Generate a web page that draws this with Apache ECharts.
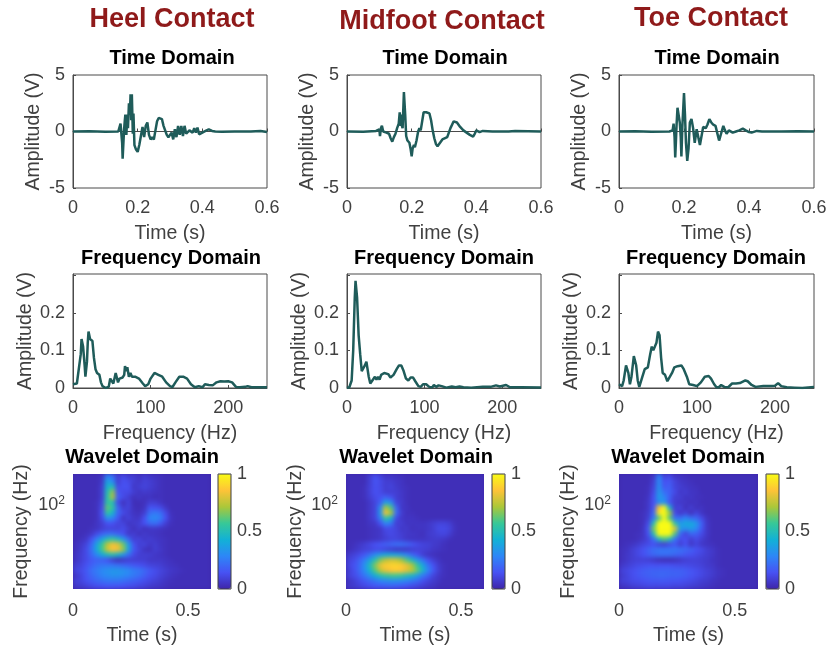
<!DOCTYPE html>
<html>
<head>
<meta charset="utf-8">
<style>
html,body{margin:0;padding:0;background:#fff}
#c{width:827px;height:647px}
canvas[data-zr-dom-id="zr_0"]{filter:blur(0.4px)}
/* soften only the wavelet layer, clipped to the three wavelet plot boxes */
canvas[data-zr-dom-id="zr_5"]{
  filter:blur(1.9px);
  clip-path:path('M73 474H211V589H73Z M346 474H484V589H346Z M619 474H758V589H619Z');
}
</style>
<script src="https://cdn.jsdelivr.net/npm/echarts@6/dist/echarts.min.js"></script>
</head>
<body>
<div id="c"></div>
<script>
const columnTitles = ['Heel Contact','Midfoot Contact','Toe Contact'];

const heelTimeT = [0,0.05,0.1,0.14,0.145,0.147,0.15,0.152,0.1535,0.156,0.158,0.16,0.162,0.165,0.168,0.17,0.173,0.176,0.178,0.18,0.182,0.185,0.187,0.19,0.195,0.2,0.205,0.21,0.215,0.22,0.225,0.23,0.235,0.24,0.245,0.25,0.255,0.26,0.265,0.27,0.275,0.28,0.29,0.295,0.3,0.305,0.31,0.315,0.32,0.325,0.33,0.335,0.34,0.345,0.35,0.355,0.36,0.365,0.37,0.375,0.38,0.385,0.39,0.4,0.41,0.42,0.43,0.44,0.46,0.5,0.55,0.58,0.6];
const heelTimeV = [0,0.02,-0.02,0,0.05,0.7,0.7,-1,-2.4,-2.3,0.2,0.9,1.5,-0.3,1.5,0.3,2.5,1.5,3.3,1,3.3,-0.2,1.6,-1.2,-1.6,-1.8,-1.2,-0.4,0.4,-0.5,0.5,0.8,-0.3,-0.7,-0.5,-0.7,0.1,0.9,1.2,1.2,1.1,0.5,-0.3,-0.5,-0.4,-0.1,-0.7,0.2,-0.5,0.5,-0.3,0.5,-0.4,0.5,-0.2,-0.1,0.1,0.25,-0.1,0.3,-0.1,0.35,-0.25,-0.1,0.05,0.2,0.05,0,-0.03,0,0,0.05,-0.05];

const midTimeT = [0,0.05,0.09,0.1,0.102,0.105,0.108,0.112,0.118,0.122,0.127,0.13,0.135,0.14,0.145,0.15,0.155,0.16,0.163,0.166,0.168,0.17,0.172,0.176,0.18,0.183,0.187,0.19,0.193,0.197,0.2,0.203,0.207,0.21,0.215,0.22,0.224,0.228,0.233,0.237,0.245,0.25,0.255,0.26,0.265,0.27,0.275,0.28,0.285,0.295,0.3,0.31,0.315,0.32,0.33,0.335,0.34,0.35,0.36,0.37,0.38,0.39,0.395,0.4,0.403,0.41,0.415,0.42,0.45,0.5,0.52,0.6];
const midTimeV = [0,-0.02,0.05,0.2,-0.4,0.3,0.5,0,0,-0.1,-0.1,-0.2,-0.6,-0.9,-0.5,-0.2,0.3,0.7,1.7,0.5,1.5,0.5,0.3,3.5,1.5,-0.4,-0.8,-0.9,-1,-1.6,-2.2,-1.5,-1.2,-1.4,-0.8,0,0.3,0.1,1,1.7,1.7,1.8,1.6,1,0.1,-0.6,-1.1,-1.3,-1.2,-0.7,-0.6,-0.5,-0.1,0.3,0.9,1,0.8,0.4,0.1,-0.1,-0.3,-0.45,-0.2,0.1,0.2,-0.05,0,0.05,0,0,0.05,0];

const toeTimeT = [0,0.05,0.1,0.155,0.16,0.165,0.168,0.17,0.171,0.173,0.175,0.177,0.18,0.183,0.187,0.19,0.192,0.195,0.2,0.203,0.206,0.21,0.214,0.218,0.223,0.228,0.233,0.239,0.244,0.249,0.254,0.259,0.267,0.272,0.278,0.284,0.29,0.297,0.302,0.308,0.314,0.321,0.326,0.331,0.338,0.35,0.36,0.37,0.381,0.39,0.4,0.408,0.424,0.44,0.5,0.55,0.6];
const toeTimeV = [0,0.02,-0.02,0,0.05,0.1,0.7,0.7,-0.5,-2.3,-1,0.5,2.1,2,0.8,-0.5,-2.2,0.5,3.4,1.5,-1,-2.6,-1.5,0.8,1.1,0.3,-1,0.2,-0.5,-1.2,-0.4,0.4,0.3,0.6,1.1,0.8,0.6,0.5,-0.1,-0.8,-0.2,0.5,0.1,-0.2,0.1,-0.1,0,0.1,0.25,0.1,-0.05,-0.1,0.05,0,0,0.02,0];

const heelFreqHz = [0,2,5,7,10,11,12,13,15,16,18,19,20,21,22,25,27,29,31,34,36,38,42,46,48,50,52,55,56,58,60,62,64,66,67,69,70,72,74,76,80,85,90,93,97,100,105,107,110,115,120,125,128,132,137,142,147,152,157,162,167,170,175,180,185,190,195,200,205,210,215,222,225,230,240,250];
const heelFreqV = [.01,.005,.012,.012,.09,.13,.133,.11,.06,.03,.07,.12,.15,.15,.13,.125,.08,.05,.04,.035,.015,.005,0,.003,.025,.03,.012,.04,.043,.015,.025,.03,.028,.035,.058,.045,.055,.03,.04,.03,.03,.025,.012,.005,.01,.025,.04,.045,.035,.03,.015,.005,.002,.015,.03,.03,.025,.01,.002,.005,.002,.01,.008,.007,.015,.018,.017,.018,.015,.003,.002,.003,.005,.002,.002,.002];

const midFreqHz = [0,3,6,8,10,11,12,13,15,17,19,21,23,25,26,28,30,32,34,36,38,40,42,44,46,48,50,53,56,60,64,67,70,73,76,79,82,85,88,92,95,98,102,106,110,112,115,118,122,128,135,140,145,150,160,175,185,192,197,205,210,225,250];
const midFreqV = [0,.002,.02,.1,.24,.285,.285,.24,.14,.09,.045,.045,.06,.07,.065,.03,.012,.018,.02,.03,.022,.03,.022,.035,.03,.04,.037,.037,.028,.035,.05,.06,.06,.045,.025,.02,.028,.028,.018,.005,.003,.01,.01,.003,.002,.008,.003,.007,.005,.001,.004,.002,.004,.002,.001,.003,.003,.007,.004,.008,.002,.002,.001];

const toeFreqHz = [0,2,4,6,9,10,12,14,16,19,20,22,24,26,28,30,33,37,40,42,44,46,48,50,52,54,56,59,62,64,68,71,75,80,83,87,90,92,95,100,105,110,115,118,122,125,128,131,135,140,145,150,155,162,165,170,175,185,195,200,204,208,215,225,235,250];
const toeFreqV = [.01,.012,.005,.02,.06,.065,.04,.01,.03,.085,.088,.06,.02,.003,.003,.03,.05,.055,.09,.11,.1,.1,.12,.15,.14,.08,.04,.035,.018,.018,.04,.055,.058,.06,.05,.03,.01,.005,.008,.005,.015,.03,.032,.025,.01,.002,.002,.008,.003,.002,.012,.012,.013,.02,.018,.008,.003,.005,.005,.006,.013,.005,.002,.001,0,.003];

/* wavelet magnitude in percent of full scale, top row first, read cell by cell */
const heelWavelet = [
[3,3,3,3,3,5,28,22,8,12,8,8,5,8,6,5,4,3,3,3,3,3,3,3,3,3],
[3,3,3,3,3,6,38,30,8,14,12,8,6,9,8,6,4,3,3,3,3,3,3,3,3,3],
[3,3,3,3,3,8,45,50,12,14,14,6,8,10,8,6,4,3,3,3,3,3,3,3,3,3],
[3,3,3,3,3,8,50,68,15,12,12,8,5,7,6,5,4,3,3,3,3,3,3,3,3,3],
[3,3,3,3,3,8,52,72,18,12,8,4,6,4,5,3,4,3,3,3,3,3,3,3,3,3],
[3,3,3,3,4,10,55,50,12,4,10,3,3,4,8,8,5,3,3,3,3,3,3,3,3,3],
[3,3,3,3,4,12,62,55,20,8,10,4,3,5,15,14,12,6,3,3,3,3,3,3,3,3],
[3,3,3,3,4,14,55,45,20,12,8,5,4,8,22,25,22,12,4,3,3,3,3,3,3,3],
[3,3,3,3,4,12,32,28,16,5,10,6,6,14,28,30,26,14,5,3,3,3,3,3,3,3],
[3,3,3,3,5,8,14,14,10,10,5,7,8,14,20,22,16,8,4,3,3,3,3,3,3,3],
[3,3,3,4,5,8,10,10,10,12,8,4,8,4,6,6,5,4,3,3,3,3,3,3,3,3],
[3,3,4,6,12,18,22,22,18,14,6,8,4,7,5,5,4,3,3,3,3,3,3,3,3,3],
[3,4,6,14,26,38,50,55,48,34,20,8,10,6,8,6,5,4,3,3,3,3,3,3,3,3],
[4,6,10,20,38,56,74,84,80,64,36,15,8,10,6,8,5,4,3,3,3,3,3,3,3,3],
[4,7,12,22,40,58,76,86,84,68,38,16,10,5,4,8,6,4,3,3,3,3,3,3,3,3],
[5,8,12,20,30,40,48,52,46,34,22,12,8,8,8,6,5,4,3,3,3,3,3,3,3,3],
[5,8,12,16,18,18,14,8,4,6,8,8,8,8,6,6,6,5,4,3,3,3,3,3,3,3],
[8,10,14,18,22,24,24,24,22,20,18,16,14,12,10,9,8,6,5,4,3,3,3,3,3,3],
[10,12,16,22,26,30,32,34,34,32,30,26,24,20,16,13,10,8,6,5,4,3,3,3,3,3],
[6,10,15,20,24,28,30,32,32,30,28,25,22,18,14,12,9,7,5,4,3,3,3,3,3,3],
[9,10,14,17,20,22,24,24,24,22,20,18,16,13,11,9,7,5,4,3,3,3,3,3,3,3],
[6,7,9,11,13,14,15,15,15,14,13,12,10,9,7,6,5,4,3,3,3,3,3,3,3,3]];

const midWavelet = [
[3,3,3,3,8,14,10,6,6,5,4,3,3,3,3,3,3,3,3,3,3,3,3,3,3,3],
[3,3,3,3,8,15,12,8,8,6,5,3,3,3,3,3,3,3,3,3,3,3,3,3,3,3],
[3,3,3,4,9,14,12,8,10,7,5,4,3,3,3,3,3,3,3,3,3,3,3,3,3,3],
[3,3,3,4,9,14,12,8,8,8,6,4,3,3,3,3,3,3,3,3,3,3,3,3,3,3],
[3,3,3,4,8,12,14,18,14,8,6,4,3,3,3,3,3,3,3,3,3,3,3,3,3,3],
[3,3,3,3,6,10,18,38,32,10,7,4,3,3,3,3,3,3,3,3,3,3,3,3,3,3],
[3,3,3,3,6,10,30,72,60,20,6,5,3,3,3,3,3,3,3,3,3,3,3,3,3,3],
[3,3,3,3,6,10,35,85,72,22,8,4,4,3,3,3,3,3,3,3,3,3,3,3,3,3],
[3,3,3,3,6,10,26,55,45,12,6,5,5,4,3,3,3,3,3,3,3,3,3,3,3,3],
[3,3,3,3,5,6,14,28,24,8,8,5,5,5,5,6,8,10,10,8,4,3,3,3,3,3],
[3,3,3,3,4,5,6,12,12,10,6,7,4,5,5,6,8,12,12,10,5,3,3,3,3,3],
[3,3,3,3,4,5,6,10,12,10,8,6,6,5,4,7,8,10,11,8,4,3,3,3,3,3],
[3,3,3,3,4,5,6,8,10,10,8,6,5,5,5,6,7,7,6,4,3,3,3,3,3,3],
[3,4,6,8,11,14,16,18,20,22,22,20,16,12,10,9,7,6,4,3,3,3,3,3,3,3],
[3,5,7,9,10,12,12,10,8,6,6,6,8,9,9,8,6,5,4,3,3,3,3,3,3,3],
[7,9,12,16,22,30,36,40,40,38,34,28,20,14,8,5,4,3,3,3,3,3,3,3,3,3],
[9,12,18,26,38,52,66,74,78,76,70,60,48,34,24,14,8,5,3,3,3,3,3,3,3,3],
[10,14,20,32,48,66,82,88,90,90,88,82,72,56,40,24,14,7,4,3,3,3,3,3,3,3],
[8,13,20,30,44,60,74,82,86,88,86,80,74,62,46,28,16,8,4,3,3,3,3,3,3,3],
[9,12,17,24,32,42,50,56,58,58,56,50,46,36,26,18,10,6,4,3,3,3,3,3,3,3],
[5,8,12,16,20,24,28,30,32,32,30,28,24,20,14,10,7,5,3,3,3,3,3,3,3,3],
[6,7,9,11,13,15,16,17,18,17,16,14,12,10,8,6,5,3,3,3,3,3,3,3,3,3]];

const toeWavelet = [
[3,3,3,3,3,3,6,28,10,12,6,5,4,3,3,3,3,3,3,3,3,3,3,3,3,3],
[3,3,3,3,3,3,8,30,14,16,10,6,5,4,3,3,3,3,3,3,3,3,3,3,3,3],
[3,3,3,3,3,4,10,32,16,18,10,8,6,5,4,3,3,3,3,3,3,3,3,3,3,3],
[3,3,3,3,3,4,12,34,22,18,12,6,8,5,5,3,3,3,3,3,3,3,3,3,3,3],
[3,3,3,3,3,5,14,36,28,18,8,8,5,6,4,4,3,3,3,3,3,3,3,3,3,3],
[3,3,3,3,3,6,14,30,34,15,8,6,6,4,5,3,3,3,3,3,3,3,3,3,3,3],
[3,3,3,3,3,6,16,85,100,45,8,10,4,8,4,5,3,3,3,3,3,3,3,3,3,3],
[3,3,3,3,4,7,20,95,100,70,12,6,10,4,10,5,3,3,3,3,3,3,3,3,3,3],
[3,3,3,3,4,8,25,60,100,60,22,22,28,22,20,12,5,3,3,3,3,3,3,3,3,3],
[3,3,3,3,4,12,50,100,100,100,55,35,40,40,34,18,6,3,3,3,3,3,3,3,3,3],
[3,3,3,3,5,16,65,100,100,100,80,36,32,36,30,16,6,3,3,3,3,3,3,3,3,3],
[3,3,3,4,5,14,50,100,100,100,60,20,10,20,18,12,6,3,3,3,3,3,3,3,3,3],
[3,3,3,4,6,10,22,48,60,50,24,12,14,8,12,8,5,3,3,3,3,3,3,3,3,3],
[3,4,5,7,10,12,14,10,8,12,16,8,14,6,10,6,5,4,3,3,3,3,3,3,3,3],
[4,5,8,11,14,18,22,24,24,24,24,22,20,18,14,12,8,6,4,3,3,3,3,3,3,3],
[4,6,8,11,14,17,20,22,22,22,20,18,16,14,12,10,8,6,4,3,3,3,3,3,3,3],
[4,6,8,9,9,8,6,4,3,3,4,6,8,9,9,8,7,5,4,3,3,3,3,3,3,3],
[6,8,10,12,13,14,14,14,14,14,13,12,12,11,10,9,7,6,4,3,3,3,3,3,3,3],
[9,11,13,15,17,18,19,19,19,19,18,18,17,15,13,11,9,7,5,4,3,3,3,3,3,3],
[7,10,13,15,17,18,19,20,20,19,19,18,17,15,13,11,9,7,5,4,3,3,3,3,3,3],
[9,10,12,13,14,15,16,16,16,15,15,14,13,12,10,8,7,5,4,3,3,3,3,3,3,3],
[5,6,8,9,10,11,11,11,11,11,10,10,9,8,7,6,5,4,3,3,3,3,3,3,3,3]];

const parula = ['#3e26a8','#4752f4','#2d87f7','#12b1d6','#37c897','#abc739','#fec338','#f9fb15'];
const lineColor = '#1f5c5a';
const inkColor = '#404040';
const font = '"Liberation Sans", Arial, sans-serif';

/* layout boxes per column */
const plotLeft = [73,347,619], plotWidth = [194,194,195];
const wavLeft = [73,346,619], wavWidth = [138,138,139];
const barLeft = [218,492,766], barWidth = 13;
const titleX = [172,442,711], timeTitleX = [172,445,717], wavTitleX = [142,416,688], titleY = [6,8,5];

const timeT = [heelTimeT,midTimeT,toeTimeT], timeV = [heelTimeV,midTimeV,toeTimeV];
const freqHz = [heelFreqHz,midFreqHz,toeFreqHz], freqV = [heelFreqV,midFreqV,toeFreqV];
const wavelets = [heelWavelet,midWavelet,toeWavelet];
const timeCats = heelWavelet[0].map((_, i) => String(i));
const scaleCats = heelWavelet.map((_, i) => String(i));

const zip = (a, b) => a.map((v, i) => [v, b[i]]);
const tick = {fontFamily:font, fontSize:18, color:inkColor};
const nameStyle = {fontFamily:font, fontSize:19.5, color:inkColor};
const line = {lineStyle:{color:'#4a4a4a', width:1}};

const title = [], grid = [], xAxis = [], yAxis = [], series = [], visualMap = [], graphic = [];
const heading = (text, x, y, size, color) => title.push({
  text, left:x, top:y, textAlign:'center', padding:0,
  textStyle:{fontFamily:font, fontWeight:'bold', fontSize:size, color}
});
const valueX = (g, max, interval, name, gap, extra) => xAxis.push(Object.assign({
  type:'value', gridIndex:g, position:'bottom', min:0, max, interval,
  name, nameLocation:'middle', nameGap:gap, nameTextStyle:nameStyle,
  axisLine:line, axisTick:{inside:true, length:3, lineStyle:{color:'#4a4a4a'}},
  axisLabel:Object.assign({margin:11, hideOverlap:false}, tick), splitLine:{show:false}
}, extra || {})) - 1;

for (let p = 0; p < 3; p++) {
  heading(columnTitles[p], titleX[p], titleY[p], 27, '#8f1a1a');
  heading('Time Domain', timeTitleX[p], 48, 20, '#000');
  heading('Frequency Domain', timeTitleX[p] - 1, 248, 20, '#000');
  heading('Wavelet Domain', wavTitleX[p], 447, 20, '#000');

  // time domain
  let g = grid.push({left:plotLeft[p], top:75, width:plotWidth[p], height:113, show:true,
    borderColor:'#4a4a4a', borderWidth:1, backgroundColor:'transparent', outerBoundsMode:'none'}) - 1;
  let xi = valueX(g, 0.6, 0.2, 'Time (s)', 36);
  let yi = yAxis.push({type:'value', gridIndex:g, min:-5, max:5, interval:5,
    name:'Amplitude (V)', nameLocation:'middle', nameGap:plotLeft[p] - [32,306,578][p] - 12, nameTextStyle:nameStyle,
    axisLine:line, axisTick:{inside:true, length:3, lineStyle:{color:'#4a4a4a'}},
    axisLabel:Object.assign({margin:8}, tick), splitLine:{show:false}}) - 1;
  series.push({type:'line', xAxisIndex:xi, yAxisIndex:yi, data:zip(timeT[p], timeV[p]),
    showSymbol:false, symbol:'none', lineStyle:{color:lineColor, width:2.5}, animation:false, silent:true});

  // frequency domain
  g = grid.push({left:plotLeft[p], top:274, width:plotWidth[p], height:114, show:true,
    borderColor:'#4a4a4a', borderWidth:1, backgroundColor:'transparent', outerBoundsMode:'none'}) - 1;
  xi = valueX(g, 250, 100, 'Frequency (Hz)', 36, {
    axisLabel:Object.assign({margin:11, showMaxLabel:false}, tick)});
  yi = yAxis.push({type:'value', gridIndex:g, min:0, max:0.303, interval:0.1,
    name:'Amplitude (V)', nameLocation:'middle', nameGap:plotLeft[p] - [25,298,571][p] - 12, nameTextStyle:nameStyle,
    axisLine:line, axisTick:{inside:true, length:3, lineStyle:{color:'#4a4a4a'}},
    axisLabel:Object.assign({margin:8, showMaxLabel:false,
      formatter:v => v > 0.25 ? '' : String(v)}, tick), splitLine:{show:false}}) - 1;
  series.push({type:'line', xAxisIndex:xi, yAxisIndex:yi, data:zip(freqHz[p], freqV[p]),
    showSymbol:false, symbol:'none', lineStyle:{color:lineColor, width:2.5}, animation:false, silent:true});

  // wavelet: heatmap cells on hidden band axes, time and log-frequency scales shown
  g = grid.push({left:wavLeft[p], top:474, width:wavWidth[p], height:115, outerBoundsMode:'none'}) - 1;
  const cx = xAxis.push({type:'category', gridIndex:g, show:false, data:timeCats, position:'bottom', zlevel:5}) - 1;
  const cy = yAxis.push({type:'category', gridIndex:g, show:false, data:scaleCats, inverse:true, position:'left', zlevel:5}) - 1;
  const cells = [];
  wavelets[p].forEach((row, r) => row.forEach((v, c) => cells.push([c, r, v])));
  const hs = series.push({type:'heatmap', xAxisIndex:cx, yAxisIndex:cy, data:cells, zlevel:5, z:3,
    silent:true, animation:false, progressive:0}) - 1;
  valueX(g, 0.6, 0.5, 'Time (s)', 37, {
    position:'bottom', axisLine:{show:false}, axisTick:{show:false},
    axisLabel:Object.assign({margin:13, showMaxLabel:false}, tick)});
  yAxis.push({type:'log', gridIndex:g, position:'left', logBase:10, min:8.4, max:250,
    name:'Frequency (Hz)', nameLocation:'middle', nameGap:wavLeft[p] - [20,294,567][p] - 12, nameTextStyle:nameStyle,
    axisLine:{show:false}, axisTick:{show:false}, splitLine:{show:false}, minorTick:{show:false},
    axisLabel:Object.assign({margin:8, showMinLabel:false, showMaxLabel:false,
      formatter:v => Math.round(v) === 100 ? '10{s|2}' : '',
      rich:{s:{fontFamily:font, fontSize:12, color:inkColor, verticalAlign:'top', padding:[0,0,8,0]}}}, tick)});
  graphic.push({type:'rect', zlevel:5, z:0, silent:true,
    shape:{x:wavLeft[p]-10, y:464, width:wavWidth[p]+20, height:135},
    style:{fill:parula[0]}});

  // colour bar: native visualMap strip with its own scale axis on top
  visualMap.push({type:'continuous', min:0, max:100, dimension:2, seriesIndex:hs,
    left:barLeft[p], top:474, itemWidth:barWidth, itemHeight:115, padding:0,
    calculable:false, hoverLink:false, text:null, showLabel:false, z:4,
    inRange:{color:parula}, textStyle:{color:'transparent', fontSize:1}});
  g = grid.push({left:barLeft[p], top:474, width:barWidth, height:115, show:true, z:10,
    borderColor:'#404040', borderWidth:1, backgroundColor:'transparent', outerBoundsMode:'none'}) - 1;
  xAxis.push({type:'value', gridIndex:g, show:false, min:0, max:1});
  yAxis.push({type:'value', gridIndex:g, position:'right', min:0, max:1, interval:0.5, z:10,
    axisLine:{show:false}, axisTick:{show:false}, splitLine:{show:false},
    axisLabel:Object.assign({margin:6, formatter:v => String(v)}, tick)});
}

const chart = echarts.init(document.getElementById('c'), null, {renderer:'canvas', width:827, height:647});
chart.setOption({animation:false, backgroundColor:'#fff', title, grid, xAxis, yAxis, series, visualMap, graphic:{elements:graphic}});
</script>
</body>
</html>
